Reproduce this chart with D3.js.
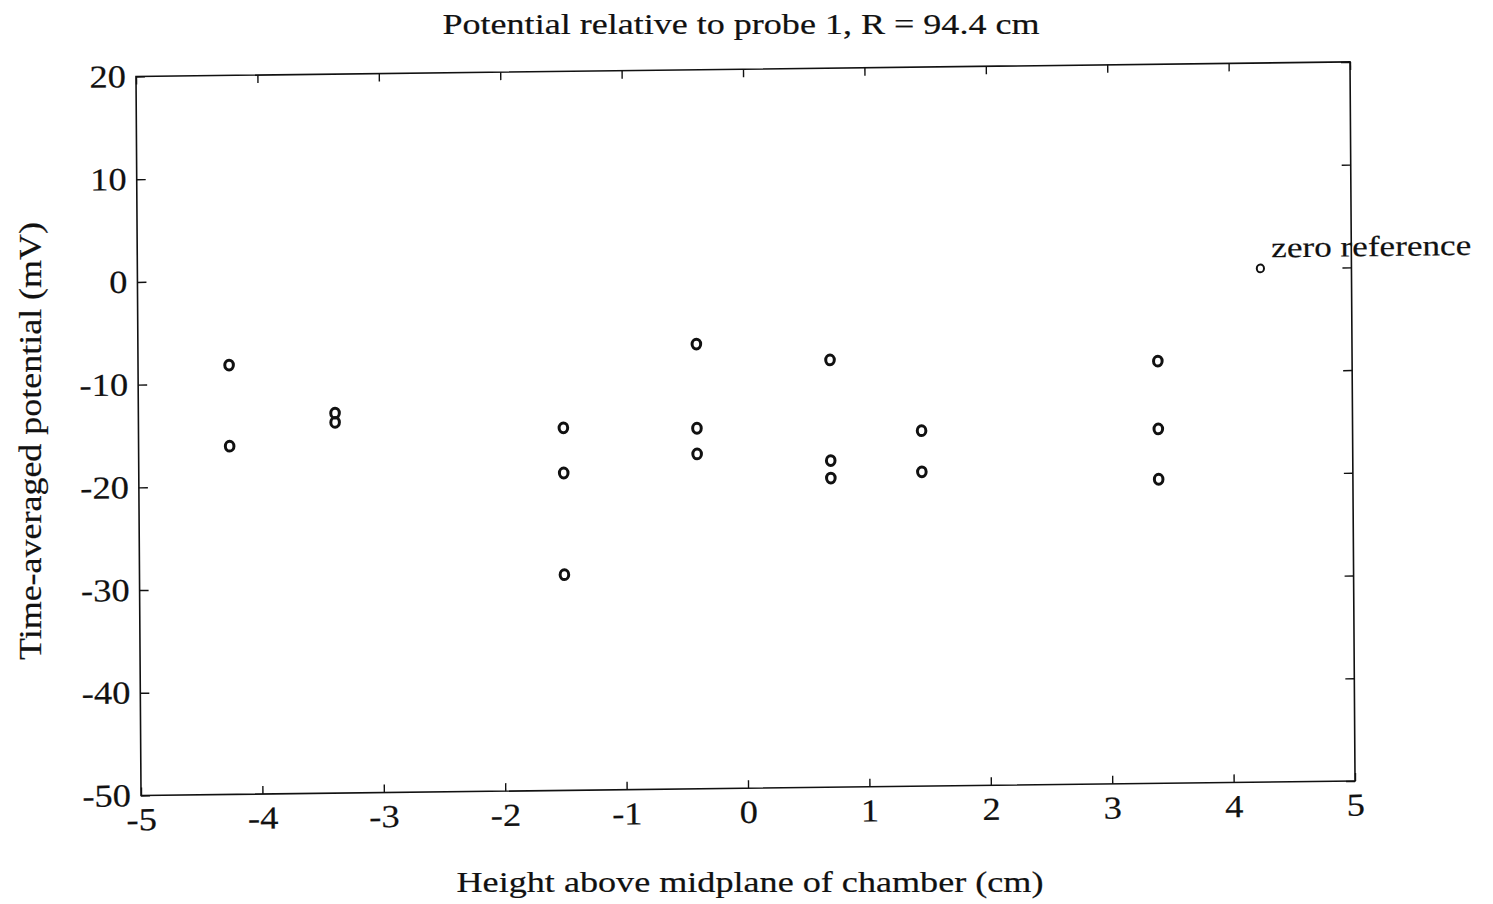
<!DOCTYPE html>
<html>
<head>
<meta charset="utf-8">
<script src="https://cdn.jsdelivr.net/npm/d3@7"></script>
<style>
    body { margin: 0; background: #fff; }
    text { font-family: "Liberation Serif", "DejaVu Serif", serif; fill: #111; stroke: #111; stroke-width: 0.2px; }
</style>
</head>
<body>
<svg id="chart" width="1493" height="904"></svg>
<script>
// probe heights (cm) and time-averaged potentials (mV)
const heights    = [-4.25, -4.25, -3.38, -3.38, -1.5, -1.5, -1.5, -0.4, -0.4, -0.4, 0.7, 0.7, 0.7, 1.45, 1.45, 3.4, 3.4, 3.4];
const potentials = [-8.2, -16.1, -13.0, -13.9, -14.7, -19.1, -29.0, -6.7, -14.9, -17.4, -8.4, -18.2, -19.9, -15.4, -19.4, -8.9, -15.5, -20.4];
const zeroRefHeight = [4.25];
const zeroRefPotential = [0];
const xTickValues = [-5, -4, -3, -2, -1, 0, 1, 2, 3, 4, 5];
const yTickValues = [20, 10, 0, -10, -20, -30, -40, -50];

const W = 1214, H = 719;
const svg = d3.select("#chart");

const x = d3.scaleLinear().domain([-5, 5]).range([0, W]);
const y = d3.scaleLinear().domain([-50, 20]).range([H, 0]);

// the scanned printout is a bit wide: stretch labels like the original
function labelWidth(s) {
    let w = 0;
    for (const ch of s) w += (ch === "-") ? 10.7 : 16;
    return w * 1.14;
}

// the scan is slightly skewed, so the whole axes box gets a small matrix
const plot = svg.append("g")
    .attr("transform", "matrix(1,-0.012,0.007,1,136,76.5)");

plot.append("rect")
    .attr("width", W).attr("height", H)
    .attr("fill", "none").attr("stroke", "#111").attr("stroke-width", 1.6);

function styleAxis(g) {
    g.select(".domain").remove();
    g.selectAll(".tick line").attr("stroke", "#111").attr("stroke-width", 1.4);
    g.selectAll(".tick text")
        .attr("fill", "#111")
        .style("font-family", '"Liberation Serif", serif')
        .style("font-size", "32px")
        .attr("textLength", function () { return labelWidth(this.textContent); })
        .attr("lengthAdjust", "spacingAndGlyphs");
}

const plainFormat = function (d) { return String(d); };

plot.append("g")
    .attr("transform", "translate(0," + H + ")")
    .call(d3.axisBottom(x).tickValues(xTickValues).tickFormat(plainFormat)
        .tickSizeInner(-8).tickSizeOuter(0).tickPadding(12))
    .call(styleAxis);

plot.append("g")
    .call(d3.axisTop(x).tickValues(xTickValues).tickSizeInner(-8).tickSizeOuter(0).tickFormat(""))
    .call(styleAxis);

plot.append("g")
    .call(d3.axisLeft(y).tickValues(yTickValues).tickFormat(plainFormat)
        .tickSizeInner(-9).tickSizeOuter(0).tickPadding(10))
    .call(styleAxis);

plot.append("g")
    .attr("transform", "translate(" + W + ",0)")
    .call(d3.axisRight(y).tickValues(yTickValues).tickSizeInner(-9).tickSizeOuter(0).tickFormat(""))
    .call(styleAxis);

// 'o' markers
plot.append("g").selectAll("ellipse")
    .data(heights)
    .enter().append("ellipse")
    .attr("cx", function (d) { return x(d); })
    .attr("cy", function (d, i) { return y(potentials[i]); })
    .attr("rx", 4.3)
    .attr("ry", 4.9)
    .attr("fill", "none")
    .attr("stroke", "#111")
    .attr("stroke-width", 3);

// zero reference point and its note
plot.append("ellipse")
    .attr("cx", x(zeroRefHeight[0]))
    .attr("cy", y(zeroRefPotential[0]))
    .attr("rx", 3.6).attr("ry", 3.9)
    .attr("fill", "none").attr("stroke", "#111").attr("stroke-width", 2);

plot.append("text")
    .attr("x", x(zeroRefHeight[0]) + 11)
    .attr("y", y(zeroRefPotential[0]) - 11)
    .attr("textLength", 200)
    .attr("lengthAdjust", "spacingAndGlyphs")
    .style("font-size", "29px")
    .text("zero reference");

// titles
svg.append("text")
    .attr("x", 741).attr("y", 34)
    .attr("text-anchor", "middle")
    .attr("textLength", 597)
    .attr("lengthAdjust", "spacingAndGlyphs")
    .style("font-size", "30px")
    .text("Potential relative to probe 1, R = 94.4 cm");

svg.append("text")
    .attr("x", 750).attr("y", 892)
    .attr("text-anchor", "middle")
    .attr("textLength", 587)
    .attr("lengthAdjust", "spacingAndGlyphs")
    .style("font-size", "30px")
    .text("Height above midplane of chamber (cm)");

svg.append("text")
    .attr("transform", "translate(41,441) rotate(-90)")
    .attr("text-anchor", "middle")
    .attr("textLength", 438)
    .attr("lengthAdjust", "spacingAndGlyphs")
    .style("font-size", "31px")
    .text("Time-averaged potential (mV)");
</script>
</body>
</html>
